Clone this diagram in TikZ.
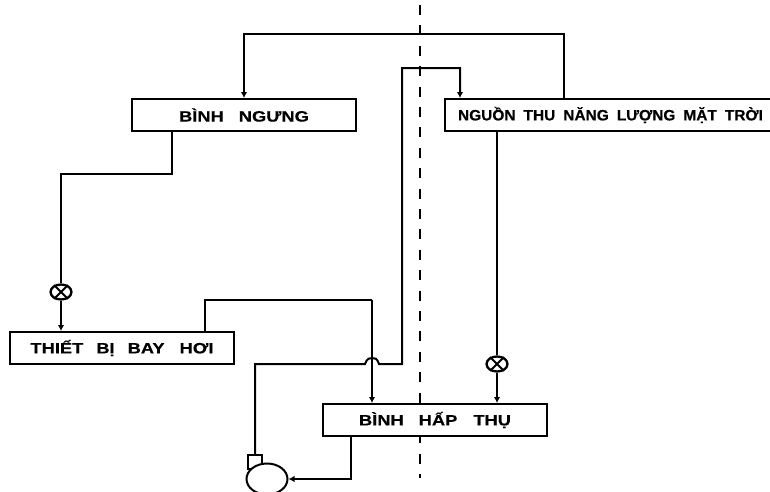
\documentclass[tikz,border=0pt]{standalone}
\usepackage{fontspec}
\setmainfont{Liberation Sans}
\newfontfamily\wideA[FakeStretch=1.22,FakeBold=0.4]{Liberation Sans Bold}
\newfontfamily\wideB[FakeStretch=1.03,FakeBold=0.4]{Liberation Sans Bold}
\usetikzlibrary{shapes.geometric,arrows.meta}
\tikzset{
  box/.style={draw,line width=2pt,fill=white,rectangle,minimum height=32pt,inner sep=0pt,font=\wideA\fontsize{15}{17}\selectfont},
  boxb/.style={box,font=\wideB\fontsize{15}{17}\selectfont},
  pipe/.style={line width=2pt,line join=miter},
  flow/.style={pipe,-{Latex[length=6pt,width=6.5pt]}},
  valve/.style={draw,line width=2.3pt,ellipse,fill=white,minimum width=21pt,minimum height=15pt,inner sep=0pt},
  axis/.style={line width=2pt,dash pattern=on 10pt off 10.4pt}
}
\begin{document}
\begin{tikzpicture}[x=1pt,y=-1pt]
\useasboundingbox (0,0) rectangle (770,491);
\clip (0,0) rectangle (770,491);
\coordinate (axtop) at (420,5);
\coordinate (axbot) at (420,478);
\draw[axis] (axtop) -- (axbot);
\node[box,minimum width=224pt] (ngung) at (244,115) {BÌNH\hspace{15pt}NGƯNG};
\node[boxb,minimum width=340pt] (nguon) at (615,115) {\hspace*{-9pt}NGUỒN\hspace{8pt}THU\hspace{8pt}NĂNG\hspace{8pt}LƯỢNG\hspace{8pt}MẶT\hspace{8pt}TRỜI};
\node[box,minimum width=224pt] (bayhoi) at (122,348) {THIẾT\hspace{13pt}BỊ\hspace{13pt}BAY\hspace{15pt}HƠI};
\node[box,minimum width=224pt] (hapthu) at (435,420) {BÌNH\hspace{15pt}HẤP\hspace{16pt}THỤ};
\node[valve] (v1) at (61,292) {};
\draw[line width=2pt] (v1.45)--(v1.225) (v1.135)--(v1.315);
\node[valve] (v2) at (497,364) {};
\draw[line width=2pt] (v2.45)--(v2.225) (v2.135)--(v2.315);
\node[draw,line width=2pt,fill=white,rectangle,minimum width=14pt,minimum height=14pt,inner sep=0pt] (bom) at (255,462) {};
\node[draw,line width=2pt,fill=white,ellipse,minimum width=41pt,minimum height=31pt,inner sep=0pt] (pump) at (267,479) {};
% top loop
\coordinate (a1) at (564,34);
\coordinate (a2) at (244,34);
\draw[flow] (nguon.north -| a1) -- (a1) -- (a2) -- (ngung.north -| a2);
% condenser to valve
\coordinate (b1) at (172,174);
\coordinate (b2) at (61,174);
\draw[pipe] (ngung.south -| b1) -- (b1) -- (b2) -- (v1.north);
\draw[flow] (v1.south) -- (bayhoi.north -| v1.south);
% evaporator to absorber
\coordinate (c1) at (205,300);
\coordinate (c2) at (372,300);
\draw[pipe] (bayhoi.north -| c1) -- (c1) -- (c2);
\draw[flow] (c2) -- (hapthu.north -| c2);
% pump to source
\coordinate (d1) at (255,364);
\coordinate (d2) at (365,364);
\coordinate (d3) at (379,364);
\coordinate (d4) at (402,364);
\coordinate (d5) at (402,68);
\coordinate (d6) at (460,68);
\draw[flow] (bom.north) -- (d1) -- (d2) .. controls (367,358) and (370,358) .. (372,358) .. controls (375,358) and (377,358) .. (d3) -- (d4) -- (d5) -- (d6) -- (nguon.north -| d6);
% source to valve to absorber
\coordinate (e1) at (497,131);
\draw[pipe] (e1) -- (v2.north);
\draw[flow] (v2.south) -- (hapthu.north -| v2.south);
% absorber to pump
\coordinate (f1) at (351,479);
\draw[flow] (hapthu.south -| f1) -- (f1) -- (pump.east);
\end{tikzpicture}
\end{document}
